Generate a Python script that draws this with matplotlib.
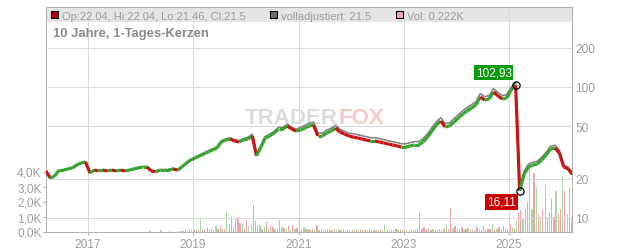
import matplotlib
matplotlib.use("Agg")
import matplotlib.pyplot as plt
import matplotlib.dates as mdates
from matplotlib.patches import Rectangle
from matplotlib.collections import LineCollection
from matplotlib.ticker import FixedLocator, FuncFormatter, NullLocator
import numpy as np
import pandas as pd

plt.rcParams['font.family'] = ['Liberation Sans', 'DejaVu Sans']

# ---------------- data ----------------
months = pd.date_range("2016-03-01", periods=121, freq="MS") + pd.Timedelta(days=14)
close = [
    22.9, 20.2, 20.9, 23.2, 23.2, 23.7, 24.1, 25.4, 26.3, 26.8,                      # 2016
    22.1, 23.2, 22.9, 23.2, 22.9, 23.2, 22.9, 23.2, 22.9, 23.2, 23.7, 24.1,          # 2017
    24.5, 24.5, 22.9, 22.5, 23.2, 23.2, 23.2, 23.7, 23.2, 24.5, 26.3, 27.7,          # 2018
    28.7, 29.8, 30.8, 31.9, 33.1, 34.2, 38.1, 39.4, 40.1, 38.7, 38.1, 39.4,          # 2019
    40.1, 42.3, 29.8, 34.8, 40.8, 42.3, 44.5, 47.8, 47.8, 50.4, 47.8, 46.1,          # 2020
    46.9, 48.6, 50.4, 51.3, 42.3, 42.3, 44.5, 46.1, 48.6, 45.3, 43.8, 42.3,          # 2021
    41.5, 40.8, 40.1, 39.4, 38.7, 38.7, 38.1, 37.4, 36.7, 36.1, 35.5, 34.8,          # 2022
    34.8, 35.5, 36.1, 36.1, 38.1, 41.5, 46.1, 51.3, 55.0, 49.5, 50.4, 54.0,          # 2023
    58.0, 62.2, 65.6, 69.1, 72.9, 83.9, 79.6, 81.0, 91.6, 85.4, 81.0, 82.4,          # 2024
    94.9, 102.93, 16.11, 21.7, 24.5, 25.4, 25.8, 27.7, 30.3, 33.6, 34.2, 31.4,       # 2025
    24.5, 23.7, 21.5,                                                                # 2026
]
adj_years = [2016, 2017, 2018, 2019, 2020, 2021, 2022, 2023, 2024, 2025, 2026]
adj_factor = [1.00, 1.00, 1.01, 1.02, 1.03, 1.05, 1.06, 1.06, 1.06, 1.05, 1.03]

half_months = pd.date_range("2016-03-01", periods=242, freq="SMS") + pd.Timedelta(days=7)
volume_k = [
    0, 0, 0, 0, 0, 0, 0, 0, 0, 0, 0, 0, 0, 0, 0, 0, 0, 0, 0, 0,
    0, 0, 0, 0, 0, 0, 0, 0, 0, 0, 0, 0, 0, 0, 0, 0, 0, 0, 0, 0, 0, 0, 0, 0,
    0, 0, 0, 0, 0.05, 0, 0, 0, 0, 0.1, 0, 0, 0, 0.05, 0, 0, 0, 0.05, 0.05, 0.05, 0.1, 0.05, 0.2, 0.1,
    0.1, 0.15, 0.1, 0.85, 0.15, 0.1, 0.3, 0.15, 0.2, 0.1, 0.4, 0.15, 0.3, 0.2, 0.15, 1.3, 0.5, 0.95, 0.3, 0.9, 1.0, 0.55, 0.5, 0.2,
    0.75, 0.4, 0.45, 1.8, 0.7, 0.4, 0.45, 0.2, 0.3, 0.65, 0.2, 0.4, 0.3, 0.15, 0.2, 0.75, 0.3, 0.25, 0.15, 0.35, 0.2, 0.45, 0.15, 0.25,
    0.75, 0.15, 0.3, 0.2, 0.15, 0.1, 0.15, 0.1, 0.45, 0.1, 0.15, 0.1, 0.1, 0.15, 0.1, 0.08, 0.2, 0.1, 0.08, 0.1, 0.2, 0.08, 0.1, 0.08,
    0.1, 0.2, 0.08, 0.1, 0.08, 0.1, 0.08, 0.1, 0.15, 0.08, 0.1, 0.08, 0.1, 0.08, 0.1, 0.45, 0.08, 0.1, 0.08, 0.1, 0.15, 0.08, 0.1, 0.08,
    0.15, 0.1, 0.08, 0.1, 0.12, 0.1, 0.15, 1.3, 0.2, 0.3, 0.15, 0.25, 0.1, 0.15, 0.12, 0.1, 0.2, 0.12, 0.15, 0.5, 0.2, 1.6, 0.25, 0.4,
    0.15, 0.2, 0.3, 0.12, 0.15, 0.25, 0.1, 0.15, 0.12, 0.3, 0.15, 0.12, 0.35, 0.15, 0.2, 0.15, 0.5, 0.2, 0.15, 0.3, 0.2, 0.4, 0.2, 0.15,
    0.45, 0.3, 0.25, 0.7, 1.3, 1.45, 0.9, 1.5, 2.0, 4.2, 1.5, 3.9, 3.0, 1.2, 1.0, 1.5, 3.1, 1.0, 1.3, 2.2, 1.0, 2.7, 1.2, 1.5,
    3.7, 2.7, 1.2, 2.9, 1.0, 0.222,
]
vol_dir = ("rgrgrgrgrgrgrgrgrgrg"
           "rgrgrgrgrgrgrgrgrgrgrgrg"
           "rgrgrgrgrgrgrgrgrgrgrggg"
           "rgrgrrrgrggrrgrgrrgrrrgr"
           "rggrrrgrgrgrrgrrgrgrgrgr"
           "grgrgrrgrgrgrgrgrgrgrgrg"
           "rgrgrgrgrgrgrgrgrgrgrgrg"
           "rgrgrgrgrrrgrgrgrgrgrrgr"
           "grrgrgrgrrgrrgrrgrgrgrgr"
           "rgrgrrgrrrgrgrgrgrgrrgrr"
           "grgrrr")

tick_years = [2017, 2019, 2021, 2023, 2025]
price_ticks = [10, 20, 50, 100, 200]
vol_ticks = [0, 1, 2, 3, 4]
last_open, last_high, last_low, last_close = 22.04, 22.04, 21.46, 21.5
last_adj, last_vol = 21.5, 0.222
title = "10 Jahre, 1-Tages-Kerzen"

# ---------------- layout ----------------
W, H = 632, 253
L, R, T, B = 46, 572, 8, 232.5
fig = plt.figure(figsize=(W / 100, H / 100), dpi=100)
fig.patch.set_facecolor('white')

def fx(px):
    return px / W

def fy(py):
    return 1 - py / H

axv = fig.add_axes([fx(L), fy(B), (R - L) / W, (B - T) / H])
axp = axv.twinx()

GRID = '#dadada'
SPINE = '#b4b4b4'
TXT = '#9e9e9e'
UP, DOWN = '#36a530', '#c81414'
VUP, VDOWN = '#a8dca0', '#f0a3ab'

# legend band
axv.add_patch(Rectangle((0, 1 - 15 / (B - T)), 1, 15 / (B - T), transform=axv.transAxes,
                        facecolor='#e5e5e5', edgecolor='none', zorder=0))

# watermark
axv.text(fx(338), fy(123.5), "TRADER", transform=fig.transFigure, ha='right', va='baseline',
         fontsize=16, fontweight='bold', color='#dcdcdc', zorder=0.5)
axv.text(fx(338), fy(123.5), "FOX", transform=fig.transFigure, ha='left', va='baseline',
         fontsize=16, fontweight='bold', color='#f6caca', zorder=0.5)

# volume
vcols = [VUP if d == 'g' else VDOWN for d in vol_dir]
axv.bar(half_months, volume_k, width=9, color=vcols, linewidth=0, zorder=2)
axv.set_ylim(0, (B - T) / 15.0)
axv.set_xlim(pd.Timestamp('2016-03-16'), pd.Timestamp('2026-03-13'))
axv.yaxis.set_major_locator(FixedLocator(vol_ticks))
axv.yaxis.set_major_formatter(FuncFormatter(lambda v, p: f"{v:.1f}K".replace('.', ',')))
axv.set_xticks([pd.Timestamp(f"{y}-01-01") for y in tick_years])
axv.set_xticklabels([str(y) for y in tick_years])
axv.set_axisbelow(True)
axv.grid(axis='x', color=GRID, linewidth=0.75)
axv.tick_params(axis='y', direction='out', length=2.2, width=0.75, color=SPINE, pad=1,
                labelsize=8.6, labelcolor=TXT)
axv.tick_params(axis='x', direction='out', length=2.2, width=0.75, color=SPINE, pad=2.4,
                labelsize=8.6, labelcolor=TXT)
for s in axv.spines.values():
    s.set_color(SPINE)
    s.set_linewidth(0.75)

# price: close path coloured by direction, adjusted line in grey
c = np.array(close)
xnum = mdates.date2num(months)
adjusted = [ci * adj_factor[adj_years.index(d.year)] for ci, d in zip(close, months)]
axp.set_yscale('log')
axp.plot(months, adjusted, color='#858585', linewidth=1.2, zorder=2)
segs = [[(xnum[i - 1], c[i - 1]), (xnum[i], c[i])] for i in range(1, len(c))]
scols = [UP if c[i] >= c[i - 1] else DOWN for i in range(1, len(c))]
axp.add_collection(LineCollection(segs, colors=scols, linewidths=2.3, capstyle='butt',
                                  joinstyle='miter', zorder=3))
axp.set_ylim(100 * 10 ** ((88 - B) / 131), 100 * 10 ** ((88 - T) / 131))
axp.yaxis.set_major_locator(FixedLocator(price_ticks))
axp.yaxis.set_minor_locator(NullLocator())
axp.yaxis.set_major_formatter(FuncFormatter(lambda v, p: f"{v:g}"))
axp.grid(axis='y', color=GRID, linewidth=0.75, zorder=1)
axp.set_axisbelow(True)
axp.tick_params(axis='y', length=0, pad=2.5, labelsize=8.6, labelcolor=TXT)
for s in axp.spines.values():
    s.set_visible(False)

imax = int(np.argmax(c))
imin = int(np.argmin(c))
for i in (imax, imin):
    axp.plot([months[i]], [close[i]], 'o', ms=5.2, mfc='none', mec='black', mew=0.9, zorder=6)
axp.annotate(f"{close[imax]:.2f}".replace('.', ','), xy=(months[imax], close[imax]),
             xytext=(-22, 13), textcoords='offset pixels', ha='center', va='center',
             color='white', fontsize=8.5,
             bbox=dict(boxstyle='square,pad=0.15', fc='#0b9a0b', ec='none'), zorder=7)
axp.annotate(f"{close[imin]:.2f}".replace('.', ','), xy=(months[imin], close[imin]),
             xytext=(-18, -11), textcoords='offset pixels', ha='center', va='center',
             color='white', fontsize=8.5,
             bbox=dict(boxstyle='square,pad=0.15', fc='#cc0000', ec='none'), zorder=7)

# legend row & title
legend_items = [
    (50.6, '#b40000', f"Op:{last_open}, Hi:{last_high}, Lo:{last_low}, Cl:{last_close}"),
    (269.5, '#6e6e6e', f"volladjustiert: {last_adj}"),
    (395.8, '#f2a5b0', f"Vol: {last_vol}K"),
]
for x0, col, label in legend_items:
    fig.add_artist(Rectangle((fx(x0), fy(19.2)), 7 / W, 7 / H, transform=fig.transFigure,
                             facecolor=col, edgecolor='black', linewidth=0.8))
    fig.text(fx(x0 + 11.3), fy(19.5), label, fontsize=8, color=TXT, va='baseline', ha='left')

fig.text(fx(53), fy(37.5), title, fontsize=9.4, fontweight='bold', color='#8a8a8a',
         va='baseline', ha='left')

fig.savefig('out.png', dpi=100, facecolor='white')
